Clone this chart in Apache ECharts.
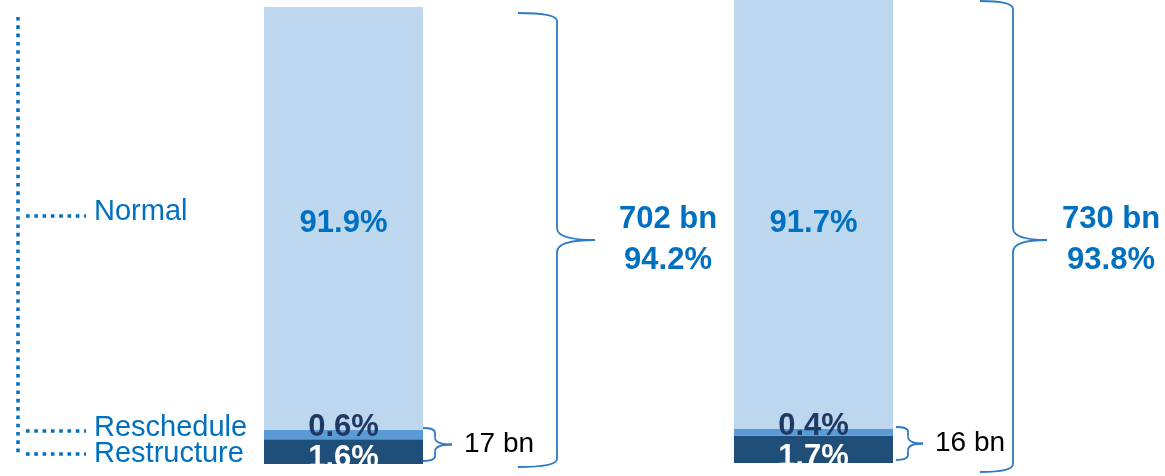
<!DOCTYPE html>
<html>
<head>
<meta charset="utf-8">
<script src="https://cdn.jsdelivr.net/npm/echarts@6/dist/echarts.min.js"></script>
<style>
  html, body { margin: 0; padding: 0; background: #ffffff; }
  #chart { width: 1165px; height: 476px; }
</style>
</head>
<body>
<div id="chart"></div>
<script>
// ---- data ----
const categories = ['Period A', 'Period B'];
const segmentNames = ['Restructure', 'Reschedule', 'Normal'];
const restructure = [1.6, 1.7];      // % of loans
const reschedule = [0.6, 0.4];       // % of loans
const normal = [91.9, 91.7];         // % of loans
const totalAmountBn = [702, 730];    // amount shown beside the big brace
const totalShare = [94.2, 93.8];     // share shown beside the big brace (%)
const flaggedAmountBn = [17, 16];    // restructure + reschedule amount

// ---- style / layout ----
const FONT = '"Liberation Sans", Arial, Helvetica, sans-serif';
const BLUE = '#0070C0';
const BRACE = '#2E7BC4';
const COLORS = { Restructure: '#1F4E79', Reschedule: '#5B9BD5', Normal: '#BDD7EE' };
const BAR_W = 159;
const SMALL_PX = 34;   // drawn height of the restructure + reschedule part (axis break above it)
const panels = [
  { center: 343.5, top: 7, bottom: 464, braceGap: 134, braceArm: 39, braceNose: 38, braceTop: 13, braceBottom: 467, labelX: 668, smallGap: 12, smallNose: 17 },
  { center: 813.5, top: 0, bottom: 463, braceGap: 120, braceArm: 33, braceNose: 34, braceTop: 1, braceBottom: 472, labelX: 1111, smallGap: 15, smallNose: 15 }
];

const grids = [], xAxes = [], yAxes = [], series = [];

categories.forEach((cat, i) => {
  const p = panels[i];
  const small = restructure[i] + reschedule[i];
  const total = small + normal[i];
  const H = p.bottom - p.top;
  const k = SMALL_PX / small;            // px per % below the break
  const gap = 0.3;
  const removed = total - H / k;         // span taken out of the Normal range
  const start = small + 0.8;

  grids.push({ left: p.center - BAR_W / 2, width: BAR_W, top: p.top, height: H, containLabel: false });
  xAxes.push({ type: 'category', gridIndex: i, data: [cat], show: false });
  yAxes.push({
    type: 'value', gridIndex: i, min: 0, max: total, show: false,
    splitLine: { show: false },
    breaks: [{ start: start, end: start + removed + gap, gap: gap }],
    breakArea: {
      show: false,
      itemStyle: { color: 'rgba(0,0,0,0)', borderColor: 'rgba(0,0,0,0)', borderWidth: 0 }
    }
  });

  const common = {
    type: 'bar', xAxisIndex: i, yAxisIndex: i, stack: 'loans' + i,
    barWidth: BAR_W, silent: true, animation: false
  };
  const lbl = { show: true, formatter: '{c}%', fontFamily: FONT, fontSize: 31, fontWeight: 'bold' };

  series.push(Object.assign({}, common, {
    name: segmentNames[0], data: [restructure[i]],
    itemStyle: { color: COLORS.Restructure },
    label: Object.assign({}, lbl, { position: ['50%', '100%'], offset: [0, -6], align: 'center', verticalAlign: 'middle', color: '#ffffff' })
  }));
  series.push(Object.assign({}, common, {
    name: segmentNames[1], data: [reschedule[i]],
    itemStyle: { color: COLORS.Reschedule },
    label: Object.assign({}, lbl, { position: ['50%', 0], offset: [0, -3], align: 'center', verticalAlign: 'middle', color: '#1F3864' })
  }));
  series.push(Object.assign({}, common, {
    name: segmentNames[2], data: [normal[i]],
    itemStyle: { color: COLORS.Normal },
    label: Object.assign({}, lbl, { position: 'inside', offset: [0, i === 0 ? 5 : 9], color: BLUE })
  }));
});

const chart = echarts.init(document.getElementById('chart'), null, { renderer: 'canvas' });
chart.setOption({
  backgroundColor: '#ffffff',
  animation: false,
  grid: grids, xAxis: xAxes, yAxis: yAxes, series: series
});

// ---- annotations: braces, amounts and the segment guide on the left ----
const braceStyle = { stroke: BRACE, lineWidth: 1.8, fill: null };

// "}" shape: arms reach left at y1 / y2, the point reaches right at ym
function addBrace(list, x, y1, y2, ym, arm, nose, r, rn) {
  const curve = (x1, yA, cx, cy, x2, yB) => list.push({
    type: 'bezierCurve', silent: true,
    shape: { x1: x1, y1: yA, cpx1: cx, cpy1: cy, x2: x2, y2: yB },
    style: braceStyle
  });
  const seg = (x1, yA, x2, yB) => list.push({
    type: 'line', silent: true, shape: { x1: x1, y1: yA, x2: x2, y2: yB }, style: braceStyle
  });
  curve(x - arm, y1, x, y1, x, y1 + r);
  seg(x, y1 + r, x, ym - rn);
  curve(x, ym - rn, x, ym, x + nose, ym);
  curve(x + nose, ym, x, ym, x, ym + rn);
  seg(x, ym + rn, x, y2 - r);
  curve(x, y2 - r, x, y2, x - arm, y2);
}

const graphics = [];
categories.forEach((cat, i) => {
  const p = panels[i];
  const small = restructure[i] + reschedule[i];
  const base = chart.convertToPixel({ gridIndex: i }, [0, 0]);
  const right = base[0] + BAR_W / 2;
  const yBottom = base[1];
  const ySmallTop = chart.convertToPixel({ gridIndex: i }, [0, small])[1];

  // large brace around the whole bar
  addBrace(graphics, right + p.braceGap, p.braceTop, p.braceBottom, 240, p.braceArm, p.braceNose, 8, 12);
  graphics.push({
    type: 'text', silent: true, x: p.labelX, y: 219,
    style: { text: totalAmountBn[i] + ' bn', fill: BLUE, font: 'bold 31px ' + FONT, textAlign: 'center', textVerticalAlign: 'middle' }
  });
  graphics.push({
    type: 'text', silent: true, x: p.labelX, y: 260,
    style: { text: totalShare[i].toFixed(1) + '%', fill: BLUE, font: 'bold 31px ' + FONT, textAlign: 'center', textVerticalAlign: 'middle' }
  });

  // small brace around restructure + reschedule
  const sx = right + p.smallGap;
  const sy1 = ySmallTop - 2;
  const sy2 = yBottom - 3;
  const sym = (sy1 + sy2) / 2;
  addBrace(graphics, sx, sy1, sy2, sym, 12, p.smallNose, 5, 7);
  graphics.push({
    type: 'text', silent: true, x: sx + p.smallNose + 12, y: sym,
    style: { text: flaggedAmountBn[i] + ' bn', fill: '#000000', font: '28px ' + FONT, textAlign: 'left', textVerticalAlign: 'middle' }
  });
});

// segment guide (dotted leader lines + names)
const guide = [
  { name: segmentNames[2], y: 216, textY: 212 },
  { name: segmentNames[1], y: 431, textY: 428 },
  { name: segmentNames[0], y: 454, textY: 454 }
];
const dotted = { stroke: BLUE, lineWidth: 3.5, lineDash: [3.6, 4.7], lineCap: 'butt' };
graphics.push({ type: 'line', silent: true, shape: { x1: 18, y1: 17, x2: 18, y2: 456 }, style: dotted });
guide.forEach(g => {
  graphics.push({ type: 'line', silent: true, shape: { x1: 26, y1: g.y, x2: 86, y2: g.y }, style: dotted });
  graphics.push({
    type: 'text', silent: true, x: 94, y: g.textY,
    style: { text: g.name, fill: BLUE, font: '29px ' + FONT, textAlign: 'left', textVerticalAlign: 'middle' }
  });
});

chart.setOption({ graphic: graphics });
</script>
</body>
</html>
